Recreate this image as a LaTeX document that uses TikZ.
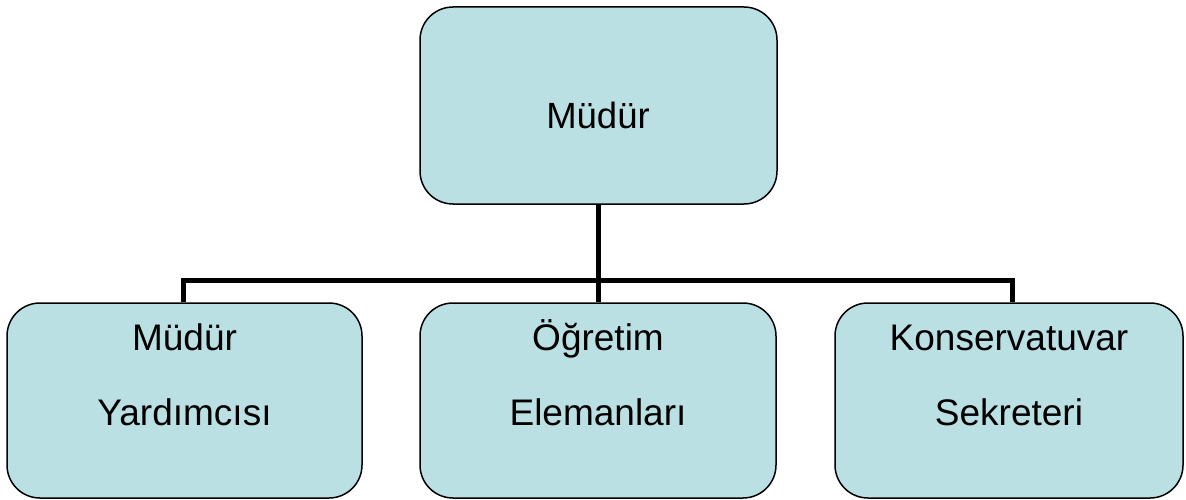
\documentclass[tikz,border=0pt]{standalone}
\usepackage{fontspec}
\setmainfont{Liberation Sans}
\definecolor{boxfill}{HTML}{BBE0E3}
\newcommand{\firstline}{\rule{0pt}{35pt}}
\begin{document}
\begin{tikzpicture}[x=1pt,y=-1pt,
  orgbox/.style={draw=black,line width=1.5pt,fill=boxfill,rounded corners=33pt,inner sep=0pt},
  lbl/.style={font=\fontsize{37}{75}\selectfont,align=center,inner sep=0pt,anchor=north},
  conn/.style={line width=5pt,line join=miter,draw=black}]
\useasboundingbox (0,0) rectangle (1186,500);
\node[orgbox,minimum width=357pt,minimum height=197pt] (top) at (598.5,105.5) {};
\node[font=\fontsize{36.5}{43}\selectfont,inner sep=0pt] (toplbl) at (598,115) {Müdür};
\node[orgbox,minimum width=355pt,minimum height=195pt] (b1) at (184.5,400.5) {};
\node[orgbox,minimum width=356pt,minimum height=195pt] (b2) at (598,400.5) {};
\node[orgbox,minimum width=348pt,minimum height=195pt] (b3) at (1009,400.5) {};
\node[lbl] (t1) at (184.5,315) {\firstline Müdür\\Yardımcısı};
\node[lbl] (t2) at (598,315) {\firstline Öğretim\\Elemanları};
\node[lbl] (t3) at (1009,315) {\firstline Konservatuvar\\Sekreteri};
\coordinate (jl) at (183,280);
\coordinate (jr) at (1012,280);
\draw[conn] (top.south) -- (top.south |- jl);
\draw[conn] (b1.north -| jl) -- (jl) -- (jr) -- (b3.north -| jr);
\draw[conn] (b2.north) -- (b2.north |- jl);
\end{tikzpicture}
\end{document}
